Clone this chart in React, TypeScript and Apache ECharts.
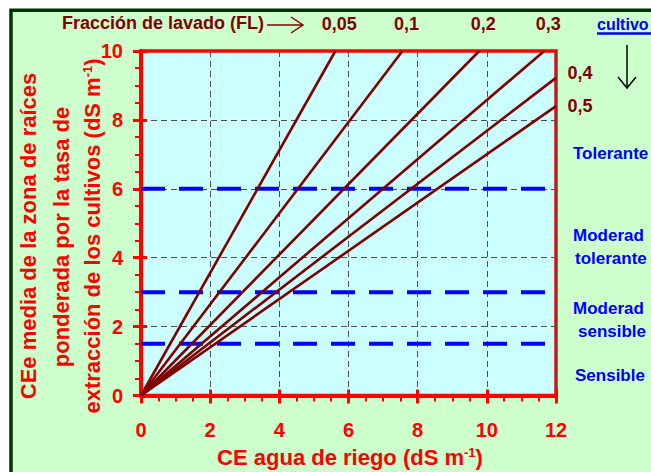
import React, { useEffect, useRef } from "react";
import * as echarts from "echarts";

// ---- data ----
const flLabels = ["0,05", "0,1", "0,2", "0,3", "0,4", "0,5"];
const lineEndX = [5.62, 7.56, 9.78, 11.66, 12, 12];
const lineEndY = [10, 10, 10, 10, 9.22, 8.4];
const thresholds = [6, 3, 1.5];
const yTitleLines = [
  "CEe media de la zona de raíces",
  "ponderada por la tasa de",
  "extracción de los cultivos (dS m",
];
const xTitle = "CE agua de riego (dS m";
// texts as visible in the reference (cut by the picture's right edge)
const classLabels = ["Tolerante", "Moderad", "tolerante", "Moderad", "sensible", "Sensible"];
const cropHeader = "cultivo";

const FONT = "Arial, 'Liberation Sans', Helvetica, sans-serif";
const RED = "#ff0000";
const MAROON = "#800000";
const BLUE = "#0000ff";

export default function App() {
  const ref = useRef<HTMLDivElement>(null);
  useEffect(() => {
    document.body.style.margin = "0";
    const chart = echarts.init(ref.current!, null, { renderer: "svg" });

    const gridPos = { left: 141, top: 51, right: 95, bottom: 76.5 };

    const flSeries = flLabels.map((lab, i) => {
      const atTop = lineEndY[i] >= 10;
      return {
        type: "line",
        xAxisIndex: 0,
        yAxisIndex: 0,
        clip: false,
        silent: true,
        z: 5,
        symbol: "circle",
        symbolSize: 1,
        itemStyle: { color: MAROON },
        lineStyle: { color: MAROON, width: 2.6 },
        data: [
          { value: [0, 0], label: { show: false } },
          {
            value: [lineEndX[i], lineEndY[i]],
            label: {
              show: true,
              formatter: lab,
              position: atTop ? "top" : "right",
              distance: atTop ? 18 : 11,
              offset: atTop ? [4, 0] : [0, i === 4 ? -5 : 0],
              color: MAROON,
              fontSize: 18,
              fontWeight: "bold",
              fontFamily: FONT,
            },
          },
        ],
      };
    });

    const innerStart = 0;
    const innerEnd = 11.78;
    const outerStart = 12.12;
    const outerEnd = 14.8;
    const blueInner = thresholds.map((t) => ({
      type: "line",
      xAxisIndex: 0,
      yAxisIndex: 0,
      silent: true,
      z: 3,
      symbol: "none",
      lineStyle: { color: BLUE, width: 4, type: [24, 14] },
      data: [
        [innerStart, t],
        [innerEnd, t],
      ],
    }));
    const blueOuter = thresholds.map((t) => ({
      type: "line",
      xAxisIndex: 0,
      yAxisIndex: 0,
      silent: true,
      clip: false,
      z: 3,
      symbol: "none",
      lineStyle: { color: BLUE, width: 3.5, type: [13, 12] },
      data: [
        [outerStart, t],
        [outerEnd, t],
      ],
    }));

    const labelFont = { color: RED, fontSize: 20, fontWeight: "bold", fontFamily: FONT };
    const splitStyle = { show: true, lineStyle: { color: "#505050", width: 1, type: [6, 4] } };

    const nameRich = {
      a: { fill: RED, fontSize: 22, fontWeight: "bold", fontFamily: FONT },
      s: { fill: RED, fontSize: 13, fontWeight: "bold", fontFamily: FONT, verticalAlign: "top" },
    };

    const yNameCenters = [
      [28, 236],
      [61, 237],
      [92, 236],
    ];
    const yNameEls = yTitleLines.map((t, i) => ({
      type: "text",
      x: yNameCenters[i][0],
      y: yNameCenters[i][1],
      rotation: Math.PI / 2,
      z: 100,
      style: {
        text: i === 2 ? `{a|${t}}{s|-1}{a|)}` : `{a|${t}}`,
        rich: nameRich,
        textAlign: "center",
        textVerticalAlign: "middle",
      },
    }));

    const classPos = [
      [573, 153],
      [573, 235],
      [575, 258],
      [573, 308],
      [578, 331],
      [575, 375],
    ];
    const classEls = classLabels.map((t, i) => ({
      type: "text",
      x: classPos[i][0],
      y: classPos[i][1],
      z: 100,
      style: {
        text: t,
        fill: BLUE,
        font: `bold 17px ${FONT}`,
        textAlign: "left",
        textVerticalAlign: "middle",
      },
    }));

    const option = {
      animation: false,
      backgroundColor: "#ffffff",
      grid: [
        {
          ...gridPos,
          show: true,
          backgroundColor: "#ccffff",
          borderColor: RED,
          borderWidth: 3.5,
        },
        { ...gridPos, show: false },
      ],
      xAxis: [
        {
          type: "value",
          gridIndex: 0,
          min: 0,
          max: 12,
          interval: 2,
          axisLine: { show: true, lineStyle: { color: RED, width: 4 } },
          axisTick: { show: true, inside: false, length: 8, lineStyle: { color: RED, width: 3 } },
          minorTick: { show: true, splitNumber: 4, length: 6, lineStyle: { color: RED, width: 2 } },
          axisLabel: { ...labelFont, margin: 24 },
          splitLine: splitStyle,
        },
        {
          type: "value",
          gridIndex: 1,
          min: 0,
          max: 12,
          interval: 2,
          axisLine: { show: false },
          axisTick: { show: true, inside: true, length: 6, lineStyle: { color: RED, width: 3 } },
          axisLabel: { show: false },
          splitLine: { show: false },
        },
      ],
      yAxis: [
        {
          type: "value",
          gridIndex: 0,
          min: 0,
          max: 10,
          interval: 2,
          axisLine: { show: true, lineStyle: { color: RED, width: 4 } },
          axisTick: { show: true, inside: false, length: 8, lineStyle: { color: RED, width: 3 } },
          minorTick: { show: true, splitNumber: 4, length: 6, lineStyle: { color: RED, width: 2 } },
          axisLabel: { ...labelFont, margin: 18 },
          splitLine: splitStyle,
        },
        {
          type: "value",
          gridIndex: 1,
          min: 0,
          max: 10,
          interval: 2,
          axisLine: { show: false },
          axisTick: { show: true, inside: true, length: 6, lineStyle: { color: RED, width: 3 } },
          axisLabel: { show: false },
          splitLine: { show: false },
        },
      ],
      graphic: [
        {
          type: "rect",
          z: -10,
          shape: { x: 11, y: 10.3, width: 700, height: 500 },
          style: { fill: "#ccffcc", stroke: "#003300", lineWidth: 3.5 },
        },
        {
          type: "text",
          x: 62,
          y: 23,
          z: 100,
          style: {
            text: "Fracción de lavado (FL)",
            fill: MAROON,
            font: `bold 18px ${FONT}`,
            textAlign: "left",
            textVerticalAlign: "middle",
          },
        },
        {
          type: "line",
          z: 100,
          shape: { x1: 267, y1: 25, x2: 303, y2: 25 },
          style: { stroke: MAROON, lineWidth: 1.5 },
        },
        {
          type: "polyline",
          z: 100,
          shape: { points: [[291, 17], [303, 25], [291, 33]] },
          style: { stroke: MAROON, lineWidth: 1.5, fill: "none" },
        },
        {
          type: "text",
          x: 597,
          y: 24,
          z: 100,
          style: {
            text: cropHeader,
            fill: BLUE,
            font: `bold 16px ${FONT}`,
            textAlign: "left",
            textVerticalAlign: "middle",
          },
        },
        {
          type: "line",
          z: 100,
          shape: { x1: 597, y1: 33.5, x2: 660, y2: 33.5 },
          style: { stroke: BLUE, lineWidth: 2.5 },
        },
        {
          type: "line",
          z: 100,
          shape: { x1: 627, y1: 45, x2: 627, y2: 88 },
          style: { stroke: "#000000", lineWidth: 1.5 },
        },
        {
          type: "polyline",
          z: 100,
          shape: { points: [[618, 77], [627, 88], [636, 77]] },
          style: { stroke: "#000000", lineWidth: 1.5, fill: "none" },
        },
        ...classEls,
        ...yNameEls,
        {
          type: "text",
          x: 350,
          y: 457,
          z: 100,
          style: {
            text: `{a|${xTitle}}{s|-1}{a|)}`,
            rich: nameRich,
            textAlign: "center",
            textVerticalAlign: "middle",
          },
        },
      ],
      series: [...blueInner, ...blueOuter, ...flSeries],
    };

    chart.setOption(option as any);
    return () => chart.dispose();
  }, []);
  return <div ref={ref} style={{ width: 651, height: 472, background: "#fff" }} />;
}
